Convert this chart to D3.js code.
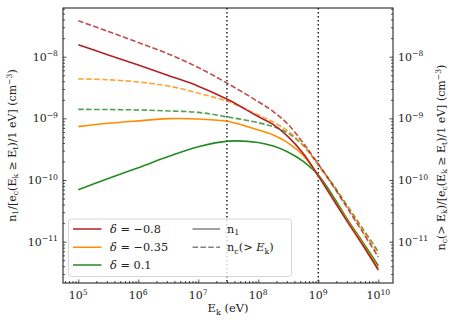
<!DOCTYPE html>
<html><head><meta charset="utf-8">
<script src="https://cdn.jsdelivr.net/npm/d3@7"></script>
<style>body{margin:0;background:#fff}svg{display:block;font-family:"DejaVu Serif",serif}</style>
</head><body>
<svg id="c" width="456" height="327"></svg>
<script>
const energies = [1e5,3.16e5,1e6,3.16e6,1e7,3.16e7,1e8,1.78e8,3.16e8,5.62e8,1e9,1.78e9,3.16e9,5.62e9,1e10];
const deltas = ["−0.8","−0.35","0.1"];
const colors = ["#b22222","#ff8c00","#228b22"];
const n1_m08  = [1.56e-8,1.07e-8,7.33e-9,4.95e-9,3.33e-9,2.0e-9,1.07e-9,7.94e-10,5.01e-10,2.69e-10,1.17e-10,4.79e-11,2.0e-11,8.5e-12,3.47e-12];
const n1_m035 = [7.35e-10,8.32e-10,9.12e-10,9.89e-10,9.77e-10,8.91e-10,6.46e-10,5.37e-10,3.98e-10,2.51e-10,1.17e-10,4.9e-11,2.09e-11,8.9e-12,3.72e-12];
const n1_p01  = [6.98e-11,1.06e-10,1.58e-10,2.40e-10,3.47e-10,4.27e-10,4.07e-10,3.55e-10,2.82e-10,2.0e-10,1.20e-10,5.37e-11,2.19e-11,9.55e-12,4.07e-12];
const nc_m08  = [3.83e-8,2.57e-8,1.70e-8,1.11e-8,6.68e-9,3.63e-9,1.86e-9,1.29e-9,7.94e-10,3.98e-10,1.82e-10,7.94e-11,3.31e-11,1.38e-11,5.62e-12];
const nc_m035 = [4.37e-9,4.23e-9,3.89e-9,3.35e-9,2.57e-9,1.86e-9,1.135e-9,8.71e-10,6.17e-10,3.63e-10,1.74e-10,7.94e-11,3.47e-11,1.48e-11,6.31e-12];
const nc_p01  = [1.40e-9,1.39e-9,1.37e-9,1.32e-9,1.25e-9,1.05e-9,8.51e-10,7.33e-10,5.75e-10,3.63e-10,1.78e-10,8.32e-11,3.63e-11,1.58e-11,6.92e-12];
const vlines = [3e7, 1e9];
const xMajor = [1e5,1e6,1e7,1e8,1e9,1e10];
const yMajor = [1e-11,1e-10,1e-9,1e-8];

const n1Series = [n1_m08,n1_m035,n1_p01];
const ncSeries = [nc_m08,nc_m035,nc_p01];

const svg = d3.select("#c");
const L=63,R=393,T=8,B=283;
const x = d3.scaleLog().domain([Math.pow(10,4.745),Math.pow(10,10.245)]).range([L,R]);
const y = d3.scaleLog().domain([Math.pow(10,-11.67),Math.pow(10,-7.21)]).range([B,T]);
const TXT = "#222";

function minors(lo,hi){const a=[];for(let e=lo;e<=hi;e++)for(let k=2;k<=9;k++){a.push(k*Math.pow(10,e));}return a;}
const xMin = minors(4,10).filter(v=>v>=x.domain()[0]&&v<=x.domain()[1]);
const yMin = minors(-12,-8).filter(v=>v>=y.domain()[0]&&v<=y.domain()[1]);

const line = d3.line().x((d,i)=>x(energies[i])).y(d=>y(d)).curve(d3.curveCatmullRom.alpha(0.5));
svg.append("clipPath").attr("id","pc").append("rect").attr("x",L).attr("y",T).attr("width",R-L).attr("height",B-T);
const g = svg.append("g").attr("clip-path","url(#pc)");
vlines.forEach(v=>{
  g.append("line").attr("x1",x(v)).attr("x2",x(v)).attr("y1",T).attr("y2",B)
   .attr("stroke","#222").attr("stroke-width",1.5).attr("stroke-dasharray","1.5,2.5");
});
[2,1,0].forEach(i=>{
  g.append("path").attr("d",line(ncSeries[i])).attr("fill","none").attr("stroke",colors[i])
   .attr("stroke-opacity",0.8).attr("stroke-width",1.6).attr("stroke-dasharray","5.5,2.4");
});
[2,1,0].forEach(i=>{
  g.append("path").attr("d",line(n1Series[i])).attr("fill","none").attr("stroke",colors[i])
   .attr("stroke-width",1.6);
});

function ax(gen,tr){return svg.append("g").attr("transform",tr).call(gen).call(s=>{s.select(".domain").remove();s.selectAll("line").attr("stroke","#222").attr("stroke-width",0.8);});}
ax(d3.axisBottom(x).tickValues(xMajor).tickSize(-3.5).tickFormat(""),`translate(0,${B})`);
ax(d3.axisBottom(x).tickValues(xMin).tickSize(-2).tickFormat(""),`translate(0,${B})`);
ax(d3.axisLeft(y).tickValues(yMajor).tickSize(-3.5).tickFormat(""),`translate(${L},0)`);
ax(d3.axisLeft(y).tickValues(yMin).tickSize(-2).tickFormat(""),`translate(${L},0)`);
ax(d3.axisRight(y).tickValues(yMajor).tickSize(-3.5).tickFormat(""),`translate(${R},0)`);
ax(d3.axisRight(y).tickValues(yMin).tickSize(-2).tickFormat(""),`translate(${R},0)`);
svg.append("rect").attr("x",L).attr("y",T).attr("width",R-L).attr("height",B-T)
  .attr("fill","none").attr("stroke","#111").attr("stroke-width",1);

function rich(sel,parts,fs){
  let carry=0;
  parts.forEach(p=>{
    const t=sel.append("tspan").text(p.t);
    if(p.it) t.attr("font-style","italic");
    let dy=carry; carry=0;
    if(p.sub){t.attr("font-size",fs*0.7); dy+=fs*0.22; carry=-fs*0.22;}
    if(p.sup){t.attr("font-size",fs*0.7); dy+=-fs*0.4; carry=fs*0.4;}
    if(dy!==0) t.attr("dy",dy);
  });
  return sel;
}
function pow10(e){return [{t:"10"},{t:(e<0?"−":"")+Math.abs(e),sup:true}];}
function txt(x0,y0,anchor,fs){return svg.append("text").attr("x",x0).attr("y",y0).attr("text-anchor",anchor).attr("font-size",fs).attr("fill",TXT);}

const FS=11;
xMajor.forEach(v=>{
  const e=Math.round(Math.log10(v));
  rich(txt(x(v),B+16,"middle",FS),pow10(e),FS);
});
yMajor.forEach(v=>{
  const e=Math.round(Math.log10(v));
  rich(txt(L-5,y(v)+4,"end",FS),pow10(e),FS);
  rich(txt(R+5,y(v)+4,"start",FS),pow10(e),FS);
});

const LFS=11;
rich(txt((L+R)/2,312,"middle",11.5),[{t:"E"},{t:"k",sub:true},{t:" (eV)"}],11.5);
rich(svg.append("text").attr("transform",`translate(16,${(T+B)/2}) rotate(-90)`).attr("text-anchor","middle")
  .attr("font-size",LFS).attr("fill",TXT),
  [{t:"n"},{t:"1",sub:true},{t:"/[e"},{t:"c",sub:true},{t:"(E"},{t:"k",sub:true},{t:" ≥ E"},{t:"t",sub:true},{t:")/1 eV] (cm"},{t:"−3",sup:true},{t:")"}],LFS);
rich(svg.append("text").attr("transform",`translate(445,${(T+B)/2+12}) rotate(-90)`).attr("text-anchor","middle")
  .attr("font-size",LFS).attr("fill",TXT),
  [{t:"n"},{t:"c",sub:true},{t:"(> E"},{t:"k",sub:true},{t:")/[e"},{t:"c",sub:true},{t:"(E"},{t:"k",sub:true},{t:" ≥ E"},{t:"t",sub:true},{t:")/1 eV] (cm"},{t:"−3",sup:true},{t:")"}],LFS);

// legend
const GFS=11.3;
const lg = svg.append("g");
lg.append("rect").attr("x",68.5).attr("y",219).attr("width",223).attr("height",57.5).attr("rx",3)
  .attr("fill","#fff").attr("fill-opacity",0.8).attr("stroke","#ccc").attr("stroke-width",0.8);
const rowsY=[229,247.3,265];
deltas.forEach((d,i)=>{
  lg.append("line").attr("x1",73).attr("x2",101.5).attr("y1",rowsY[i]).attr("y2",rowsY[i])
    .attr("stroke",colors[i]).attr("stroke-width",1.5);
  rich(lg.append("text").attr("x",110).attr("y",rowsY[i]+4).attr("font-size",GFS).attr("fill",TXT),
    [{t:"δ",it:true},{t:" = "+d}],GFS);
});
lg.append("line").attr("x1",192.5).attr("x2",220).attr("y1",rowsY[0]).attr("y2",rowsY[0])
  .attr("stroke","#808080").attr("stroke-width",1.5);
lg.append("line").attr("x1",192.5).attr("x2",220).attr("y1",rowsY[1]).attr("y2",rowsY[1])
  .attr("stroke","#808080").attr("stroke-width",1.5).attr("stroke-dasharray","5.5,2.4");
rich(lg.append("text").attr("x",227).attr("y",rowsY[0]+4).attr("font-size",GFS).attr("fill",TXT),
  [{t:"n"},{t:"1",sub:true}],GFS);
rich(lg.append("text").attr("x",227).attr("y",rowsY[1]+4).attr("font-size",GFS).attr("fill",TXT),
  [{t:"n"},{t:"c",sub:true},{t:"(> "},{t:"E",it:true},{t:"k",sub:true},{t:")"}],GFS);
</script>
</body></html>
